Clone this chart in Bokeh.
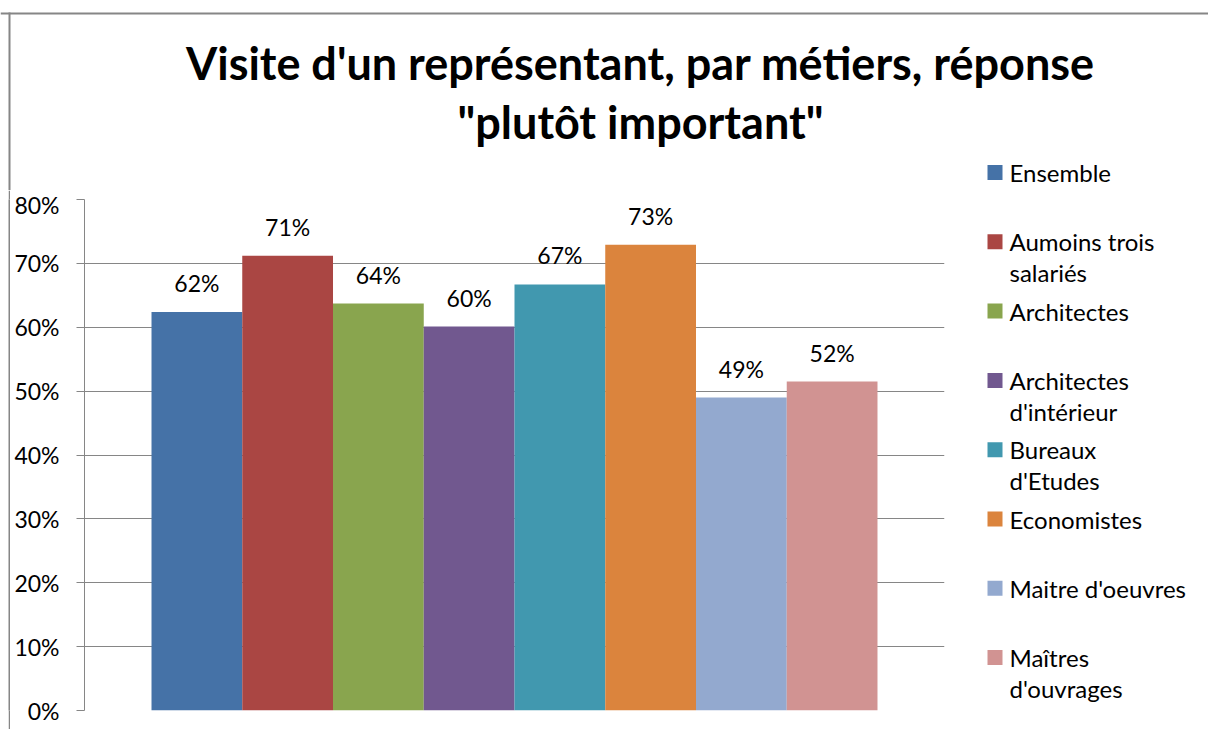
from bokeh.plotting import figure
from bokeh.layouts import column, row
from bokeh.models import (ColumnDataSource, FactorRange, Range1d, FixedTicker,
                          NumeralTickFormatter, LabelSet, Span, Spacer)
from bokeh.core.properties import value
from bokeh.embed import file_html
from bokeh.resources import INLINE

# ---------------- data ----------------
title_lines = ["Visite d'un représentant, par métiers, réponse", "\"plutôt important\""]
series = ["Ensemble", "Aumoins trois salariés", "Architectes", "Architectes d'intérieur",
          "Bureaux d'Etudes", "Economistes", "Maitre d'oeuvres", "Maîtres d'ouvrages"]
legend_wrapped = ["Ensemble", "Aumoins trois\nsalariés", "Architectes", "Architectes\nd'intérieur",
                  "Bureaux\nd'Etudes", "Economistes", "Maitre d'oeuvres", "Maîtres\nd'ouvrages"]
values = [0.624, 0.712, 0.637, 0.601, 0.667, 0.729, 0.490, 0.515]
value_labels = ["62%", "71%", "64%", "60%", "67%", "73%", "49%", "52%"]
colors = ["#4572A7", "#AA4643", "#89A54E", "#71588F", "#4198AF", "#DB843D", "#93A9CF", "#D19392"]
y_ticks = [0.0, 0.1, 0.2, 0.3, 0.4, 0.5, 0.6, 0.7, 0.8]

FONT = "Lato"
GRAY = "#868686"
TXT = "23px"
LEG_TXT = "24px"

# page geometry (pixels)
PAGE_W, PAGE_H = 1208, 729
TITLE_H = 190
BODY_H = PAGE_H - TITLE_H
FRAME_L, FRAME_R, FRAME_T, FRAME_B = 84, 944, 199, 710
BORDER_X = 8
MAIN_X0 = BORDER_X + 2
MAIN_W = 964 - MAIN_X0
LEG_X0 = MAIN_X0 + MAIN_W
LEG_W = PAGE_W - LEG_X0


def blank_fig(x0, x1, y0, y1, w, h, **kw):
    f = figure(width=w, height=h, x_range=Range1d(x0, x1), y_range=Range1d(y1, y0),
               x_axis_location=None, y_axis_location=None, output_backend="svg",
               toolbar_location=None, title=None, **kw)
    f.outline_line_color = None
    f.grid.visible = False
    f.background_fill_color = "white"
    f.border_fill_color = "white"
    return f


# ---------------- title (+ top part of legend) ----------------
tf = blank_fig(0, PAGE_W, 0, TITLE_H, PAGE_W, TITLE_H, min_border=0)
tf.text(x=[640, 640], y=[62, 121], text=title_lines, text_align="center",
        text_baseline="alphabetic", text_font=value(FONT), text_font_style="bold",
        text_font_size="45px", text_color="black")
tf.add_layout(Span(location=13, dimension="width", line_color=GRAY, line_width=2))
tf.segment(x0=[9], y0=[12], x1=[9], y1=[TITLE_H + 10], line_color=GRAY, line_width=2)

# ---------------- left border strip ----------------
sf = figure(width=2, height=BODY_H, x_axis_location=None, y_axis_location=None,
            output_backend="svg", toolbar_location=None, title=None, min_border=0)
sf.outline_line_color = None
sf.grid.visible = False
sf.background_fill_color = GRAY
sf.border_fill_color = GRAY

# ---------------- main chart ----------------
p = figure(width=MAIN_W, height=BODY_H, title=None,
           x_range=FactorRange(factors=series, range_padding=0.1846, range_padding_units="percent"),
           y_range=Range1d(0, 0.8), x_axis_location=None,
           output_backend="svg", toolbar_location=None,
           min_border_left=FRAME_L - MAIN_X0, min_border_right=LEG_X0 - FRAME_R,
           min_border_top=FRAME_T - TITLE_H, min_border_bottom=PAGE_H - FRAME_B)
p.outline_line_color = None
p.background_fill_color = "white"
p.border_fill_color = "white"

yax = p.yaxis[0]
yax.ticker = FixedTicker(ticks=y_ticks)
yax.formatter = NumeralTickFormatter(format="0%")
yax.axis_line_color = GRAY
yax.major_tick_line_color = GRAY
yax.major_tick_out = 8
yax.major_tick_in = 0
yax.minor_tick_line_color = None
yax.major_label_text_font = FONT
yax.major_label_text_font_size = TXT
yax.major_label_text_color = "black"
yax.major_label_standoff = 17

p.ygrid.grid_line_color = GRAY
p.ygrid.grid_line_width = 1
p.xgrid.grid_line_color = None

src = ColumnDataSource(dict(x=series, top=values, color=colors, label=value_labels))
p.vbar(x="x", top="top", width=1.0, fill_color="color", line_color=None, source=src)
p.add_layout(LabelSet(x="x", y="top", text="label", source=src, text_align="center",
                      text_baseline="middle", y_offset=29, text_font=value(FONT),
                      text_font_size=TXT, text_color="black"))

# ---------------- legend (page coordinates) ----------------
lf = blank_fig(LEG_X0, PAGE_W, FRAME_T, FRAME_B, LEG_W, BODY_H,
               min_border_left=0, min_border_right=0,
               min_border_top=FRAME_T - TITLE_H, min_border_bottom=PAGE_H - FRAME_B)

rows = []
for i, s in enumerate(legend_wrapped):
    y1 = 172 + 69.3 * i
    parts = s.split("\n")
    rows.append((y1, colors[i], parts[0], parts[1] if len(parts) > 1 else None))

for fig, lo, hi in [(tf, 0, TITLE_H), (lf, TITLE_H, PAGE_H)]:
    sel = [r for r in rows if lo <= r[0] < hi]
    if not sel:
        continue
    d = dict(x=[987 + 7.5] * len(sel), y=[r[0] for r in sel], color=[r[1] for r in sel],
             tx=[1009] * len(sel), t1=[r[2] for r in sel])
    s_ = ColumnDataSource(d)
    fig.rect(x="x", y="y", width=15, height=15, fill_color="color", line_color=None, source=s_)
    fig.text(x="tx", y="y", text="t1", text_align="left", text_baseline="middle",
             text_font=value(FONT), text_font_size=LEG_TXT, text_color="black", source=s_)
    sec = [r for r in sel if r[3]]
    if sec:
        fig.text(x=[1009] * len(sec), y=[r[0] + 31 for r in sec], text=[r[3] for r in sec],
                 text_align="left", text_baseline="middle", text_font=value(FONT),
                 text_font_size=LEG_TXT, text_color="black")

layout = column(tf, row(Spacer(width=BORDER_X, height=BODY_H), sf, p, lf, spacing=0), spacing=0)
open("out.html", "w").write(file_html(layout, INLINE))
